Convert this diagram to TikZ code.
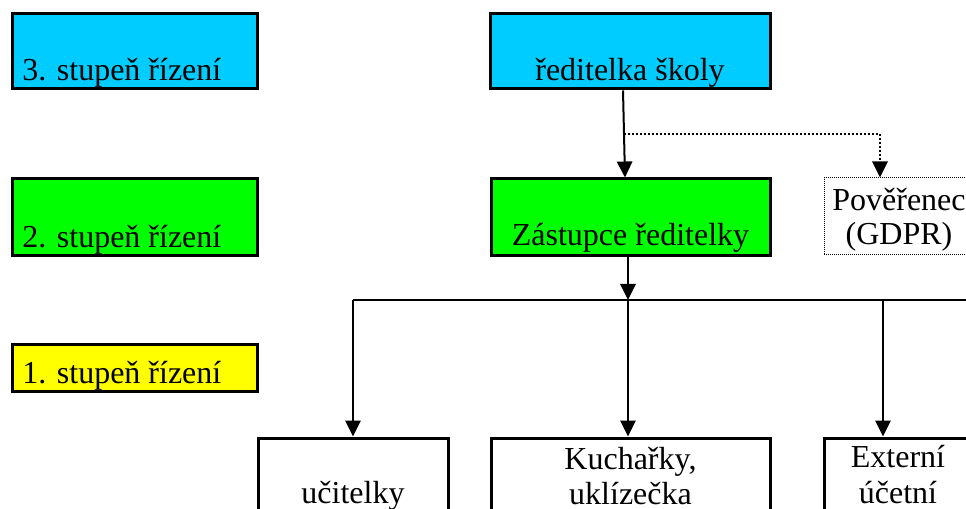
\documentclass[tikz,border=0pt]{standalone}
\usepackage{fontspec}
\newfontfamily\timesfont{Liberation Serif}
\usetikzlibrary{arrows.meta,calc}
\definecolor{lvlthree}{HTML}{00CCFF}
\definecolor{lvltwo}{HTML}{00FF00}
\definecolor{lvlone}{HTML}{FFFF00}
\tikzset{
  box/.style={draw, line width=2.25pt, inner sep=0pt, rectangle},
  dotbox/.style={draw, line width=0.75pt, dash pattern=on 0.75pt off 0.75pt, inner sep=0pt, rectangle},
  txt/.style={inner sep=0pt, anchor=base, font=\timesfont\fontsize{24}{27}\selectfont},
  txtl/.style={txt, anchor=base west},
  conn/.style={line width=1.5pt, -{Triangle[width=11.5pt,length=12pt]}},
  dotconn/.style={line width=1.6pt, dash pattern=on 1.5pt off 1.5pt, -{Triangle[width=11.5pt,length=12pt]}},
  busline/.style={line width=1.2pt},
}
\begin{document}
\begin{tikzpicture}[x=0.75pt,y=-0.75pt]
\useasboundingbox (0,0) rectangle (966,509);
\clip (0,0) rectangle (966,509);
% level boxes
\node[box, fill=lvlthree, minimum width=183.75pt, minimum height=56.25pt] (l3) at (134.5,51.5) {};
\node[box, fill=lvltwo, minimum width=183.75pt, minimum height=57.75pt] (l2) at (134.5,217.5) {};
\node[box, fill=lvlone, minimum width=183.75pt, minimum height=35.25pt] (l1) at (134.5,367.5) {};
\node[txtl] (l3t) at (22,81) {3. stupeň řízení};
\node[txtl] (l2t) at (22,248) {2. stupeň řízení};
\node[txtl] (l1t) at (22,383) {1. stupeň řízení};
% org boxes
\node[box, fill=lvlthree, minimum width=210pt, minimum height=56.25pt] (red) at (630,51.5) {};
\node[txt] (redt) at (630,81) {ředitelka školy};
\node[box, fill=lvltwo, minimum width=209.25pt, minimum height=57.75pt] (zast) at (630.5,217.5) {};
\node[txt] (zastt) at (630.5,246) {Zástupce ředitelky};
\node[dotbox, minimum width=113.25pt, minimum height=57.75pt] (pov) at (899.5,216.5) {};
\node[txt] (povt1) at (899,211) {Pověřenec};
\node[txt] (povt2) at (899,245) {(GDPR)};
\node[box, minimum width=142.5pt, minimum height=91.5pt] (uc) at (353,499) {};
\node[txt] (uct) at (353,503) {učitelky};
\node[box, minimum width=209.25pt, minimum height=91.5pt] (kuch) at (630.5,499) {};
\node[txt] (kucht1) at (630.5,469) {Kuchařky,};
\node[txt] (kucht2) at (630.5,504) {uklízečka};
\node[box, minimum width=112.5pt, minimum height=91.5pt] (ext) at (899,499) {};
\node[txt] (extt1) at (898,467) {Externí};
\node[txt] (extt2) at (898,503) {účetní};
% helper coordinates
\coordinate (a1) at (623,0);
\coordinate (a2) at (625,0);
\coordinate (d0) at (624,134);
\coordinate (pvx) at (880,0);
\coordinate (bus) at (628,300);
\coordinate (busL) at (353,300);
\coordinate (busR) at (990,300);
\coordinate (busE) at (883,300);
% connectors
\draw[conn] (red.south -| a1) -- (zast.north -| a2);
\draw[dotconn] (d0) -| (pov.north -| pvx);
\draw[conn] (zast.south -| bus) -- (bus);
\draw[busline] (busL) -- (busR);
\draw[conn] (busL) -- (uc.north -| busL);
\draw[conn] (bus) -- (kuch.north -| bus);
\draw[conn] (busE) -- (ext.north -| busE);
\end{tikzpicture}
\end{document}
